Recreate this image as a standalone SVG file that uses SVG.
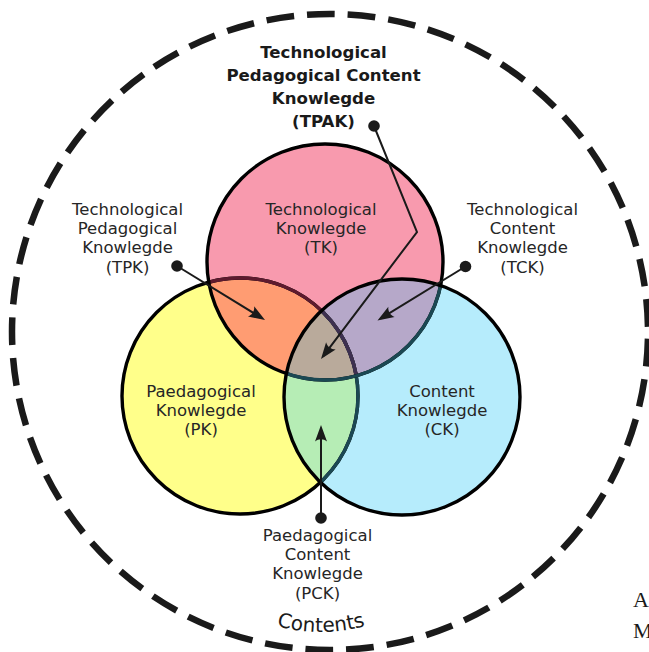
<svg xmlns="http://www.w3.org/2000/svg" width="649" height="652" viewBox="0 0 649 652">
<style>
.lbl{font-family:"DejaVu Sans","Liberation Sans",sans-serif;font-size:16.5px;fill:#262626;text-anchor:middle}
.ttl{font-family:"DejaVu Sans","Liberation Sans",sans-serif;font-size:16.6px;font-weight:bold;fill:#1a1a1a;text-anchor:middle}
.ring{fill:none;stroke-width:3.4}
.con{fill:none;stroke:#1a1a1a;stroke-width:2;marker-end:url(#ah)}
.dot{fill:#1a1a1a}
</style>
<defs>
<clipPath id="cTK"><circle cx="325" cy="262" r="118"/></clipPath>
<clipPath id="cPK"><circle cx="240" cy="396" r="118"/></clipPath>
<clipPath id="cCK"><circle cx="402" cy="397" r="118"/></clipPath>
<marker id="ah" markerUnits="userSpaceOnUse" orient="auto" refX="-4" refY="0" markerWidth="20" markerHeight="20" overflow="visible">
<path d="M0,0 L-16.4,-6 C-13.6,-2.4 -13.6,2.4 -16.4,6 Z" fill="#1a1a1a"/>
</marker>
</defs>

<g id="context">
<circle cx="330" cy="332" r="318" fill="none" stroke="#1a1a1a" stroke-width="6.5" stroke-dasharray="27.8 12.98" stroke-dashoffset="34"/>
<path id="contentsArc" d="M221,598.2 A165,165 0 0 0 421,598.2" fill="none"/>
<text style="font-family:'DejaVu Sans','Liberation Sans',sans-serif;font-size:20px;fill:#1a1a1a"><textPath href="#contentsArc" startOffset="50%" text-anchor="middle">Contents</textPath></text>
</g>

<g id="fills">
<circle cx="240" cy="396" r="118" fill="#ffff8a"/>
<circle cx="325" cy="262" r="118" fill="#f89aae"/>
<circle cx="402" cy="397" r="118" fill="#b6ecfc"/>
<g clip-path="url(#cTK)"><circle cx="240" cy="396" r="118" fill="#ff9c72"/><circle cx="402" cy="397" r="118" fill="#b6a8c9"/></g>
<g clip-path="url(#cPK)"><circle cx="402" cy="397" r="118" fill="#b6edb5"/></g>
<g clip-path="url(#cTK)"><g clip-path="url(#cPK)"><circle cx="402" cy="397" r="118" fill="#b9aa9b"/></g></g>
</g>

<g id="PK">
<circle class="ring" cx="240" cy="396" r="118" stroke="#000"/>
<g clip-path="url(#cTK)"><circle class="ring" cx="240" cy="396" r="118" stroke="#5e1a2e"/></g>
<g clip-path="url(#cCK)"><circle class="ring" cx="240" cy="396" r="118" stroke="#1b4853"/></g>
<g clip-path="url(#cTK)"><g clip-path="url(#cCK)"><circle class="ring" cx="240" cy="396" r="118" stroke="#3e3050"/></g></g>
<text class="lbl" x="201" y="396.5">Paedagogical</text>
<text class="lbl" x="201" y="415.7">Knowlegde</text>
<text class="lbl" x="201" y="434.9">(PK)</text>
</g>

<g id="TK">
<circle class="ring" cx="325" cy="262" r="118" stroke="#000"/>
<g clip-path="url(#cCK)"><circle class="ring" cx="325" cy="262" r="118" stroke="#1b4853"/></g>
<text class="lbl" x="321" y="215">Technological</text>
<text class="lbl" x="321" y="234.2">Knowlegde</text>
<text class="lbl" x="321" y="253.4">(TK)</text>
</g>

<g id="CK">
<circle class="ring" cx="402" cy="397" r="118" stroke="#000"/>
<text class="lbl" x="442" y="396.5">Content</text>
<text class="lbl" x="442" y="415.7">Knowlegde</text>
<text class="lbl" x="442" y="434.9">(CK)</text>
</g>

<g id="TPAK">
<text class="ttl" x="323.5" y="57.5">Technological</text>
<text class="ttl" x="323.5" y="80.5">Pedagogical Content</text>
<text class="ttl" x="323.5" y="103.5">Knowlegde</text>
<text class="ttl" x="323.5" y="126.5">(TPAK)</text>
</g>

<g id="TPK">
<text class="lbl" x="127.5" y="215">Technological</text>
<text class="lbl" x="127.5" y="234.2">Pedagogical</text>
<text class="lbl" x="127.5" y="253.4">Knowlegde</text>
<text class="lbl" x="127.5" y="272.6">(TPK)</text>
</g>

<g id="TCK">
<text class="lbl" x="522.5" y="215">Technological</text>
<text class="lbl" x="522.5" y="234.2">Content</text>
<text class="lbl" x="522.5" y="253.4">Knowlegde</text>
<text class="lbl" x="522.5" y="272.6">(TCK)</text>
</g>

<g id="PCK">
<text class="lbl" x="317.5" y="541">Paedagogical</text>
<text class="lbl" x="317.5" y="560.2">Content</text>
<text class="lbl" x="317.5" y="579.4">Knowlegde</text>
<text class="lbl" x="317.5" y="598.6">(PCK)</text>
</g>

<g id="connectors">
<path class="con" d="M374,126 L417,232 L323.4,355.8"/>
<circle class="dot" cx="374" cy="126" r="5.8"/>
<path class="con" d="M177,266 L261.6,317.9"/>
<circle class="dot" cx="177" cy="266" r="5.8"/>
<path class="con" d="M465.5,266.5 L380.9,318.4"/>
<circle class="dot" cx="465.5" cy="266.5" r="5.8"/>
<path class="con" d="M321,518 L321,429"/>
<circle class="dot" cx="321" cy="518" r="5.8"/>
</g>

<g id="margin">
<text x="633" y="607" style="font-family:'Liberation Serif',serif;font-size:22px;fill:#1a1a1a">A</text>
<text x="633" y="638" style="font-family:'Liberation Serif',serif;font-size:22px;fill:#1a1a1a">M</text>
</g>
</svg>
